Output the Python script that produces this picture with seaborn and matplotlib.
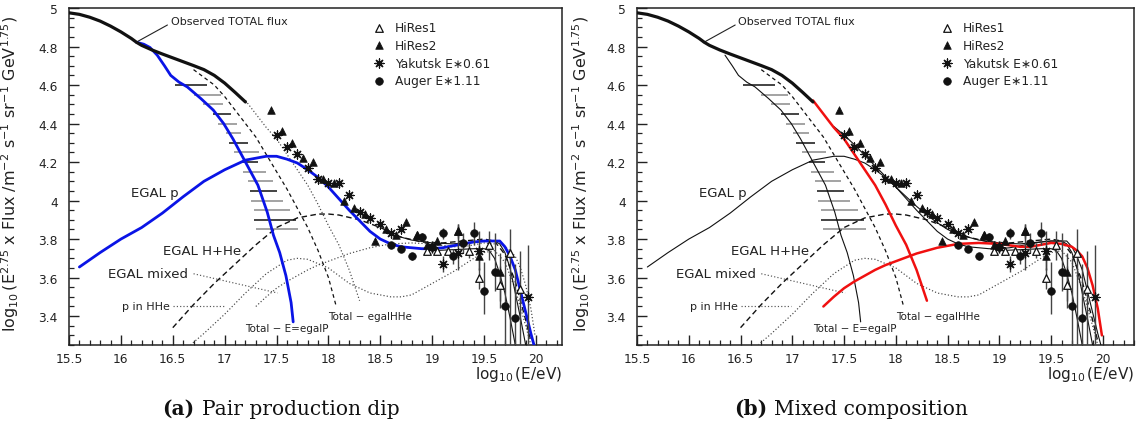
import numpy as np
import matplotlib
matplotlib.use("Agg")
import matplotlib.pyplot as plt
import seaborn as sns
from matplotlib.ticker import MultipleLocator, FuncFormatter

# ---------------- measured spectra: log10(E/eV), log10(E^2.75 * flux) ----------------
hires1_x = [18.85, 18.95, 19.05, 19.15, 19.25, 19.35, 19.45, 19.55, 19.65, 19.75, 19.85]
hires1_y = [3.82, 3.74, 3.74, 3.74, 3.84, 3.74, 3.60, 3.77, 3.56, 3.73, 3.54]
hires1_lo = [0.01, 0.01, 0.02, 0.02, 0.03, 0.04, 0.06, 0.08, 0.12, 0.48, 0.30]
hires1_hi = [0.01, 0.01, 0.02, 0.02, 0.03, 0.04, 0.05, 0.07, 0.10, 0.12, 0.20]

hires2_x = [17.45, 17.55, 17.65, 17.75, 17.85, 17.95, 18.05, 18.15, 18.25, 18.35,
            18.45, 18.55, 18.65, 18.75, 18.85, 18.95, 19.05, 19.25, 19.45, 19.65]
hires2_y = [4.47, 4.36, 4.30, 4.22, 4.20, 4.11, 4.09, 4.00, 3.96, 3.93,
            3.79, 3.85, 3.82, 3.89, 3.82, 3.77, 3.79, 3.84, 3.71, 3.63]
hires2_lo = [0, 0, 0, 0, 0, 0, 0, 0, 0, 0, 0, 0, 0.01, 0.01, 0.01, 0.02, 0.02, 0.04, 0.07, 0.15]
hires2_hi = [0, 0, 0, 0, 0, 0, 0, 0, 0, 0, 0, 0, 0.01, 0.01, 0.01, 0.02, 0.02, 0.04, 0.06, 0.10]

yakutsk_x = [17.5, 17.6, 17.7, 17.8, 17.9, 18.0, 18.1, 18.2, 18.3, 18.4,
             18.5, 18.6, 18.7, 19.0, 19.1, 19.25, 19.45, 19.92]
yakutsk_y = [4.34, 4.28, 4.24, 4.17, 4.11, 4.09, 4.09, 4.03, 3.94, 3.91,
             3.88, 3.83, 3.85, 3.76, 3.67, 3.73, 3.74, 3.50]
yakutsk_lo = [0, 0, 0, 0, 0, 0, 0, 0, 0, 0, 0, 0, 0.01, 0.03, 0.04, 0.09, 0.10, 0.30]
yakutsk_hi = [0, 0, 0, 0, 0, 0, 0, 0, 0, 0, 0, 0, 0.01, 0.03, 0.04, 0.15, 0.10, 0.27]

auger_x = [18.60, 18.70, 18.80, 18.90, 19.00, 19.10, 19.20, 19.30, 19.40, 19.50, 19.60, 19.70, 19.80]
auger_y = [3.77, 3.75, 3.71, 3.81, 3.76, 3.83, 3.71, 3.78, 3.83, 3.53, 3.63, 3.45, 3.39]
auger_lo = [0.01, 0.01, 0.02, 0.02, 0.03, 0.03, 0.04, 0.05, 0.06, 0.12, 0.10, 0.30, 0.40]
auger_hi = [0.01, 0.01, 0.02, 0.02, 0.03, 0.03, 0.04, 0.05, 0.06, 0.15, 0.20, 0.25, 0.28]

# knee-region measurements (horizontal bars)
band_y = [4.60, 4.55, 4.50, 4.45, 4.40, 4.35, 4.30, 4.25, 4.20, 4.15, 4.10, 4.05, 4.00, 3.95, 3.90, 3.85]
band_x0 = [16.52, 16.70, 16.79, 16.89, 16.94, 17.01, 17.04, 17.09, 17.16, 17.18, 17.22, 17.24, 17.25, 17.28, 17.28, 17.30]
band_x1 = [16.83, 16.96, 16.98, 17.06, 17.12, 17.16, 17.22, 17.33, 17.32, 17.40, 17.47, 17.50, 17.56, 17.63, 17.69, 17.71]
band_dark = [1, 0, 0, 1, 0, 0, 1, 0, 1, 0, 0, 1, 0, 0, 1, 0]

# ---------------- model curves ----------------
total_x = [15.5, 15.6, 15.7, 15.8, 15.9, 16.0, 16.1, 16.15, 16.2, 16.3, 16.4, 16.5,
           16.6, 16.7, 16.8, 16.9, 17.0, 17.1, 17.2]
total_y = [4.975, 4.967, 4.952, 4.932, 4.906, 4.876, 4.842, 4.822, 4.806, 4.782, 4.761, 4.741,
           4.721, 4.701, 4.680, 4.650, 4.610, 4.562, 4.512]

gal_p_x = [16.15, 16.22, 16.28, 16.35, 16.42, 16.48, 16.56, 16.64, 16.77, 16.89, 16.99,
           17.08, 17.18, 17.25, 17.32, 17.41, 17.47, 17.53, 17.59, 17.64, 17.66]
gal_p_y = [4.822, 4.812, 4.795, 4.755, 4.70, 4.65, 4.615, 4.59, 4.53, 4.47, 4.40,
           4.32, 4.22, 4.15, 4.08, 3.94, 3.82, 3.73, 3.61, 3.47, 3.37]

egal_p_x = [15.6, 15.8, 16.0, 16.2, 16.4, 16.6, 16.8, 17.0, 17.2, 17.4, 17.5, 17.6, 17.7,
            17.8, 17.9, 18.0, 18.1, 18.2, 18.3, 18.4, 18.5, 18.6, 18.7, 18.8, 18.9, 19.0,
            19.1, 19.2, 19.3, 19.4, 19.5, 19.6, 19.65, 19.7, 19.75, 19.8, 19.85, 19.9, 19.95, 19.98]
egal_p_y = [3.655, 3.73, 3.80, 3.86, 3.935, 4.02, 4.10, 4.16, 4.21, 4.23, 4.23, 4.215, 4.195,
            4.16, 4.12, 4.07, 4.01, 3.95, 3.895, 3.84, 3.80, 3.775, 3.76, 3.755, 3.75, 3.75,
            3.755, 3.765, 3.775, 3.785, 3.79, 3.79, 3.79, 3.76, 3.71, 3.64, 3.53, 3.42, 3.31, 3.25]

egal_hhe_x = [16.5, 16.7, 16.9, 17.1, 17.3, 17.5, 17.7, 17.9, 18.0, 18.1, 18.3, 18.5, 18.7,
              18.9, 19.1, 19.3, 19.5, 19.6, 19.7, 19.8, 19.9, 19.95]
egal_hhe_y = [3.34, 3.46, 3.57, 3.67, 3.77, 3.86, 3.91, 3.93, 3.93, 3.925, 3.90, 3.86, 3.81,
              3.785, 3.78, 3.79, 3.80, 3.79, 3.72, 3.58, 3.38, 3.27]

gal_hhe_x = [16.7, 16.9, 17.0, 17.1, 17.2, 17.3, 17.4, 17.5, 17.6, 17.7, 17.8, 17.9, 18.0, 18.07]
gal_hhe_y = [4.68, 4.60, 4.54, 4.47, 4.40, 4.33, 4.24, 4.15, 4.06, 3.96, 3.86, 3.74, 3.60, 3.46]

gal_mix_x = [17.2, 17.3, 17.4, 17.5, 17.6, 17.7, 17.8, 17.9, 18.0, 18.1, 18.2, 18.3]
gal_mix_y = [4.52, 4.45, 4.38, 4.32, 4.24, 4.16, 4.08, 3.98, 3.87, 3.77, 3.64, 3.48]

egal_mix_x = [17.3, 17.4, 17.5, 17.6, 17.7, 17.8, 17.9, 18.0, 18.2, 18.4, 18.6, 18.8, 19.0,
              19.2, 19.3, 19.4, 19.5, 19.6, 19.7, 19.75, 19.8, 19.85, 19.9, 19.95, 19.99]
egal_mix_y = [3.45, 3.50, 3.545, 3.58, 3.61, 3.64, 3.665, 3.685, 3.725, 3.755, 3.775, 3.78, 3.775,
              3.76, 3.76, 3.77, 3.78, 3.775, 3.76, 3.74, 3.71, 3.65, 3.56, 3.44, 3.30]

p_hhe_x = [16.67, 16.8, 17.0, 17.2, 17.4, 17.6, 17.7, 17.8, 18.0, 18.2, 18.4, 18.6, 18.7,
           18.8, 19.0, 19.2, 19.4, 19.5, 19.6, 19.7, 19.8, 19.9, 19.95]
p_hhe_y = [3.25, 3.31, 3.41, 3.52, 3.62, 3.69, 3.70, 3.695, 3.65, 3.57, 3.52, 3.50, 3.50,
           3.51, 3.57, 3.63, 3.70, 3.73, 3.74, 3.68, 3.54, 3.35, 3.25]

model_x = [17.4, 17.5, 17.6, 17.7, 17.8, 17.9, 18.0, 18.1, 18.2, 18.3, 18.4, 18.5, 18.6,
           18.8, 19.0, 19.2, 19.4, 19.5, 19.6, 19.65, 19.7, 19.75, 19.8, 19.85, 19.9]
model_y = [4.385, 4.34, 4.29, 4.235, 4.18, 4.125, 4.07, 4.02, 3.97, 3.925, 3.885, 3.85, 3.825,
           3.795, 3.78, 3.775, 3.785, 3.79, 3.79, 3.775, 3.73, 3.65, 3.52, 3.39, 3.25]

cut_x = [19.0, 19.2, 19.4, 19.5, 19.55, 19.6, 19.65, 19.7, 19.75, 19.8]
cut_y = [3.74, 3.745, 3.75, 3.75, 3.74, 3.70, 3.62, 3.52, 3.39, 3.25]

x_ticks_major = 0.5
y_ticks_major = 0.2

# ---------------- style ----------------
sns.set_style("ticks")
plt.rcParams["font.family"] = ["DejaVu Sans"]
plt.rcParams["mathtext.default"] = "regular"
plt.rcParams["axes.edgecolor"] = "#222222"
plt.rcParams["axes.linewidth"] = 1.1

BLUE = "#0a14e6"
RED = "#f01010"
DOT = (0, (1.0, 1.8))
DASH = (0, (4.0, 2.5))
DASH2 = (0, (3.0, 2.5))

fig = plt.figure(figsize=(11.41, 4.27), dpi=100)
ax_a = fig.add_axes([69 / 1141, 81 / 427, 493 / 1141, 337 / 427])
ax_b = fig.add_axes([637 / 1141, 81 / 427, 497 / 1141, 337 / 427])


def curve(ax, xs, ys, **kw):
    sns.lineplot(x=list(xs), y=list(ys), ax=ax, sort=False, estimator=None,
                 legend=False, **kw)


def draw_panel(ax, variant, xmax):
    # knee-region bars
    for yv, x0, x1, dark in zip(band_y, band_x0, band_x1, band_dark):
        ax.hlines(yv, x0, x1, colors="#111111" if dark else "#8a8a8a", lw=1.1, zorder=2)

    # thin / dashed / dotted model components
    curve(ax, egal_hhe_x, egal_hhe_y, color="#111111", lw=1.0, linestyle=DASH, zorder=3)
    curve(ax, gal_hhe_x, gal_hhe_y, color="#111111", lw=0.9, linestyle=DASH2, zorder=3)
    curve(ax, p_hhe_x, p_hhe_y, color="#444444", lw=0.85, linestyle=DOT, zorder=3)
    curve(ax, cut_x, cut_y, color="#111111", lw=0.8, zorder=3)

    if variant == "a":
        curve(ax, gal_mix_x, gal_mix_y, color="#444444", lw=0.85, linestyle=DOT, zorder=3)
        curve(ax, egal_mix_x, egal_mix_y, color="#444444", lw=0.85, linestyle=DOT, zorder=3)
        mx = np.array(model_x)
        keep = mx >= 18.6
        curve(ax, mx[keep], np.array(model_y)[keep], color="#111111", lw=0.8, zorder=3)
        curve(ax, egal_p_x, egal_p_y, color=BLUE, lw=2.0, zorder=4)
        curve(ax, gal_p_x, gal_p_y, color=BLUE, lw=2.0, zorder=4)
    else:
        curve(ax, model_x, model_y, color="#111111", lw=0.8, zorder=3)
        curve(ax, egal_p_x, egal_p_y, color="#111111", lw=0.8, zorder=3)
        gx = np.array(gal_p_x)
        keep = gx >= 16.3
        curve(ax, gx[keep], np.array(gal_p_y)[keep], color="#111111", lw=0.8, zorder=3)
        curve(ax, gal_mix_x, gal_mix_y, color=RED, lw=1.8, zorder=4)
        curve(ax, egal_mix_x, egal_mix_y, color=RED, lw=1.8, zorder=4)

    curve(ax, total_x, total_y, color="#111111", lw=2.3, zorder=4)

    # error bars
    for xs, ys, lo, hi in [(hires1_x, hires1_y, hires1_lo, hires1_hi),
                           (hires2_x, hires2_y, hires2_lo, hires2_hi),
                           (yakutsk_x, yakutsk_y, yakutsk_lo, yakutsk_hi),
                           (auger_x, auger_y, auger_lo, auger_hi)]:
        xs, ys, lo, hi = map(np.asarray, (xs, ys, lo, hi))
        m = (lo + hi) > 0.03
        ax.vlines(xs[m], ys[m] - lo[m], ys[m] + hi[m], colors="#444444", lw=1.0, zorder=5)

    # data points
    sns.scatterplot(x=hires1_x, y=hires1_y, ax=ax, marker="^", s=30, color="white",
                    edgecolor="#111111", linewidth=0.9, zorder=6, legend=False)
    h1 = ax.collections[-1]
    sns.scatterplot(x=hires2_x, y=hires2_y, ax=ax, marker="^", s=30, color="#111111",
                    edgecolor="#111111", linewidth=0.5, zorder=6, legend=False)
    h2 = ax.collections[-1]
    sns.scatterplot(x=yakutsk_x, y=yakutsk_y, ax=ax, marker=(8, 2, 0), s=42, color="#111111",
                    linewidth=0.9, zorder=6, legend=False)
    h3 = ax.collections[-1]
    sns.scatterplot(x=auger_x, y=auger_y, ax=ax, marker="o", s=30, color="#111111",
                    edgecolor="#111111", linewidth=0.5, zorder=6, legend=False)
    h4 = ax.collections[-1]

    leg = ax.legend([h1, h2, h3, h4],
                    ["HiRes1", "HiRes2", "Yakutsk E\u22170.61", "Auger E\u22171.11"],
                    loc="upper left", bbox_to_anchor=(0.617 if variant == "a" else 0.611, 0.962),
                    frameon=False, fontsize=8.8, handlelength=1.0, handletextpad=0.8,
                    labelspacing=0.4, borderaxespad=0, borderpad=0)
    for t in leg.get_texts():
        t.set_color("#222222")

    # annotations
    tkw = dict(fontsize=8, color="#222222", va="center", ha="left")
    ax.annotate("Observed TOTAL flux", xy=(16.14, 4.82), xytext=(16.48, 4.93),
                fontsize=8, color="#222222", va="center", ha="left",
                arrowprops=dict(arrowstyle="-", color="#222222", lw=0.8,
                                shrinkA=0, shrinkB=0, relpos=(-0.02, 0.2)))
    ax.text(16.10, 4.04, "EGAL p", fontsize=9.5, color="#222222", va="center", ha="left")
    ax.text(16.41, 3.74, "EGAL H+He", fontsize=9.5, color="#222222", va="center", ha="left")
    ax.text(15.88, 3.62, "EGAL mixed", fontsize=9.5, color="#222222", va="center", ha="left")
    ax.text(16.01, 3.45, "p in HHe", **tkw)
    ax.text(17.20, 3.34, "Total \u2212 E=egalP", fontsize=7.5, color="#222222", va="center", ha="left")
    ax.text(18.00, 3.40, "Total \u2212 egalHHe", fontsize=7.5, color="#222222", va="center", ha="left")
    ax.plot([16.70, 17.51], [3.62, 3.52], color="#555555", lw=0.85, linestyle=DOT)
    ax.plot([16.50, 16.99], [3.45, 3.45], color="#555555", lw=0.85, linestyle=DOT)

    # axes
    ax.set_xlim(15.5, xmax)
    ax.set_ylim(3.25, 5.0)
    ax.xaxis.set_major_locator(MultipleLocator(x_ticks_major))
    ax.xaxis.set_minor_locator(MultipleLocator(0.1))
    ax.yaxis.set_major_locator(MultipleLocator(y_ticks_major))
    ax.yaxis.set_minor_locator(MultipleLocator(0.05))
    fmt = FuncFormatter(lambda v, p: f"{v:g}")
    ax.xaxis.set_major_formatter(fmt)
    ax.yaxis.set_major_formatter(fmt)
    ax.tick_params(which="major", direction="in", length=7, width=1.0, labelsize=8.8,
                   colors="#222222", top=False, right=False)
    ax.tick_params(which="minor", direction="in", length=3.5, width=0.9,
                   colors="#222222", top=False, right=False)
    ax.tick_params(axis="y", which="major", pad=8)
    ax.tick_params(axis="x", which="major", pad=5)
    for s in ax.spines.values():
        s.set_visible(True)
    ax.set_xlabel("")
    ax.set_ylabel(r"$\log_{10}(E^{2.75}$ x Flux /m$^{-2}$ s$^{-1}$ sr$^{-1}$ GeV$^{1.75}$)",
                  fontsize=11.5, color="#222222")
    ax.yaxis.set_label_coords(-0.097 if variant == "a" else -0.091, 0.51)
    ax.text(1.0, -0.086, r"$\log_{10}$(E/eV)", transform=ax.transAxes, ha="right", va="center",
            fontsize=11, color="#222222")


draw_panel(ax_a, "a", 20.25)
draw_panel(ax_b, "b", 20.3)

# sub-figure captions
cap = dict(fontsize=14.5, family="DejaVu Serif", va="baseline", color="#111111")
fig.text(194 / 1141, 1 - 415 / 427, "(a)", ha="right", fontweight="bold", **cap)
fig.text(202 / 1141, 1 - 415 / 427, "Pair production dip", ha="left", **cap)
fig.text(767 / 1141, 1 - 415 / 427, "(b)", ha="right", fontweight="bold", **cap)
fig.text(774 / 1141, 1 - 415 / 427, "Mixed composition", ha="left", **cap)

fig.savefig("out.png", dpi=100)
